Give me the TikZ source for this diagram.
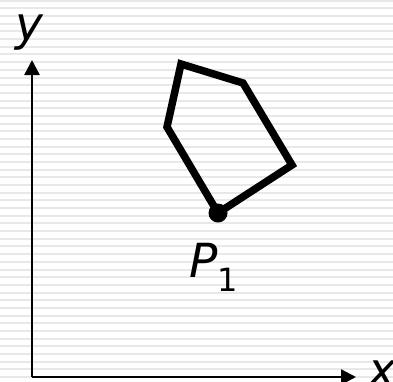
\documentclass[tikz,border=0pt]{standalone}
\usepackage{fontspec}
\setmainfont{DejaVu Sans}
\usetikzlibrary{arrows.meta}
\begin{document}
\begin{tikzpicture}[x=1pt, y=-1pt,
  axis/.style={line width=2.4pt, -{Triangle[length=15pt,width=15pt]}},
  hull/.style={line width=7.5pt, line join=miter},
  lbl/.style={inner sep=0pt, anchor=base west, font=\fontsize{47}{50}\selectfont\itshape}]
\useasboundingbox (0,0) rectangle (393,381);
\clip (0,0) rectangle (393,381);
% striped background
\foreach \i in {0,...,49}
  \fill[gray!18] (0,{0.7+7.68*\i-1}) rectangle (393,{0.7+7.68*\i+1});
% axes
\coordinate (o) at (32,377);
\coordinate (yend) at (32,60);
\coordinate (xend) at (356,377);
\draw[axis] (o) -- (yend);
\draw[axis] (o) -- (xend);
\node[lbl] (ylab) at (15,40) {y};
\node[lbl] (xlab) at (368,386) {x};
% polygon
\coordinate (p1) at (218,213);
\coordinate (a) at (292,165);
\coordinate (b) at (243,83);
\coordinate (c) at (181,64);
\coordinate (d) at (167,127);
\draw[hull] (p1) -- (a) -- (b) -- (c) -- (d) -- cycle;
\fill (p1) circle (9.5);
\node[lbl] (p1lab) at (189,277) {P\raisebox{-14pt}{\fontsize{32}{32}\selectfont\upshape 1}};
\end{tikzpicture}
\end{document}
